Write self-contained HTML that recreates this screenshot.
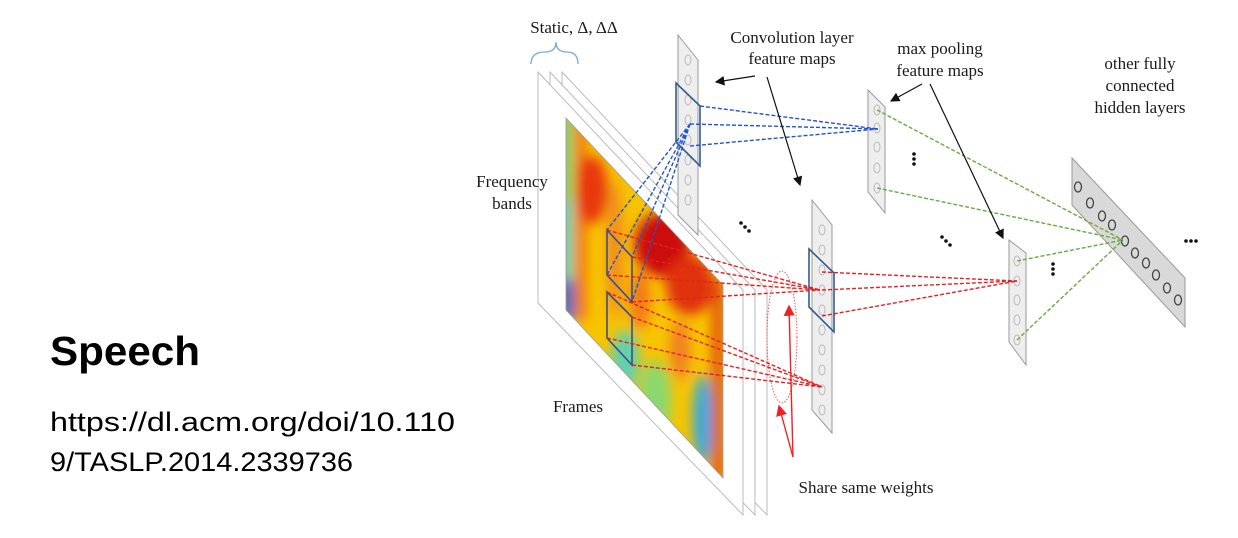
<!DOCTYPE html>
<html><head><meta charset="utf-8"><style>
html,body{margin:0;padding:0;background:#fff;}
svg{display:block;}
text{font-family:"Liberation Serif",serif;}
</style></head><body>
<svg width="1238" height="538" viewBox="0 0 1238 538" xmlns="http://www.w3.org/2000/svg">
<defs>
<clipPath id="spec"><polygon points="566,118 723,285 723,478 566,310"/></clipPath>
<filter id="bl"><feGaussianBlur stdDeviation="6"/></filter>
<marker id="ah" markerWidth="8" markerHeight="8" refX="7" refY="4" orient="auto"><path d="M0,0 L8,4 L0,8 z" fill="#111"/></marker>
<marker id="ahr" markerWidth="8" markerHeight="8" refX="7" refY="4" orient="auto"><path d="M0,0 L8,4 L0,8 z" fill="#e22"/></marker>
</defs>
<text x="50" y="365" font-weight="bold" font-size="41" textLength="150" lengthAdjust="spacingAndGlyphs" style="font-family:'Liberation Sans',sans-serif">Speech</text>
<text x="50" y="431" font-size="27" textLength="405" lengthAdjust="spacingAndGlyphs" style="font-family:'Liberation Sans',sans-serif">https://dl.acm.org/doi/10.110</text>
<text x="50" y="471" font-size="27" textLength="303" lengthAdjust="spacingAndGlyphs" style="font-family:'Liberation Sans',sans-serif">9/TASLP.2014.2339736</text>

<g fill="#fff" stroke="#bbb" stroke-width="1">
<polygon points="562,72 767,290 767,515 562,303"/>
<polygon points="550,72 755,290 755,515 550,303"/>
<polygon points="538,72 743,290 743,515 538,303"/>
</g>
<g clip-path="url(#spec)">
<rect x="560" y="110" width="170" height="380" fill="#f7c400"/>
<g filter="url(#bl)">
<rect x="560" y="110" width="12" height="380" fill="#6ccf8a"/>
<rect x="560" y="200" width="12" height="90" fill="#40d0e0"/>
<rect x="560" y="280" width="14" height="40" fill="#2c5fd8"/>
<rect x="576" y="120" width="10" height="200" fill="#f06a10"/>
<ellipse cx="592" cy="190" rx="16" ry="34" fill="#e83810"/>
<ellipse cx="615" cy="250" rx="8" ry="70" fill="#f08a20"/>
<ellipse cx="662" cy="245" rx="28" ry="32" fill="#cc0a0a"/>
<ellipse cx="690" cy="285" rx="24" ry="30" fill="#e03010"/>
<ellipse cx="640" cy="300" rx="10" ry="30" fill="#f07818"/>
<ellipse cx="625" cy="360" rx="14" ry="30" fill="#60d0b0"/>
<ellipse cx="655" cy="400" rx="16" ry="40" fill="#8ad870"/>
<ellipse cx="703" cy="420" rx="10" ry="45" fill="#30a8e0"/>
<ellipse cx="680" cy="350" rx="10" ry="30" fill="#f08020"/>
<rect x="712" y="280" width="12" height="200" fill="#e05010"/>
</g>
</g>
<polygon points="566,118 723,285 723,478 566,310" fill="none" stroke="#999" stroke-width="0.8"/>

<g fill="#eee" stroke="#999" stroke-width="1">
<polygon points="678,35 698,60 698,235 678,215"/>
<polygon points="812,200 832,225 832,433 812,410"/>
<polygon points="868,90 885,107 885,213 868,192"/>
<polygon points="1009,240 1026,253 1026,365 1009,342"/>
<polygon fill="#d9d9d9" points="1072,158 1185,278 1185,327 1072,205"/>
</g>
<g fill="none" stroke="#bbb" stroke-width="1">
<ellipse cx="688" cy="60" rx="3" ry="5"/><ellipse cx="688" cy="80" rx="3" ry="5"/><ellipse cx="688" cy="100" rx="3" ry="5"/><ellipse cx="688" cy="120" rx="3" ry="5"/><ellipse cx="688" cy="140" rx="3" ry="5"/><ellipse cx="688" cy="160" rx="3" ry="5"/><ellipse cx="688" cy="180" rx="3" ry="5"/><ellipse cx="688" cy="200" rx="3" ry="5"/>
<ellipse cx="822" cy="230" rx="3" ry="5"/><ellipse cx="822" cy="250" rx="3" ry="5"/><ellipse cx="822" cy="270" rx="3" ry="5"/><ellipse cx="822" cy="290" rx="3" ry="5"/><ellipse cx="822" cy="310" rx="3" ry="5"/><ellipse cx="822" cy="330" rx="3" ry="5"/><ellipse cx="822" cy="350" rx="3" ry="5"/><ellipse cx="822" cy="370" rx="3" ry="5"/><ellipse cx="822" cy="390" rx="3" ry="5"/><ellipse cx="822" cy="410" rx="3" ry="5"/>
<ellipse cx="877" cy="110" rx="3" ry="5"/><ellipse cx="877" cy="128" rx="3" ry="5"/><ellipse cx="877" cy="147" rx="3" ry="5"/><ellipse cx="877" cy="168" rx="3" ry="5"/><ellipse cx="877" cy="188" rx="3" ry="5"/>
<ellipse cx="1017" cy="261" rx="3" ry="5"/><ellipse cx="1017" cy="281" rx="3" ry="5"/><ellipse cx="1017" cy="300" rx="3" ry="5"/><ellipse cx="1017" cy="320" rx="3" ry="5"/><ellipse cx="1017" cy="340" rx="3" ry="5"/>
</g>
<g fill="none" stroke="#444" stroke-width="1.3">
<ellipse cx="1078" cy="187" rx="3.5" ry="5"/><ellipse cx="1090" cy="203" rx="3.5" ry="5"/><ellipse cx="1102" cy="216" rx="3.5" ry="5"/><ellipse cx="1112" cy="225" rx="3.5" ry="5"/><ellipse cx="1125" cy="241" rx="3.5" ry="5"/><ellipse cx="1135" cy="253" rx="3.5" ry="5"/><ellipse cx="1146" cy="263" rx="3.5" ry="5"/><ellipse cx="1156" cy="275" rx="3.5" ry="5"/><ellipse cx="1167" cy="288" rx="3.5" ry="5"/><ellipse cx="1178" cy="300" rx="3.5" ry="5"/>
</g>

<g fill="none" stroke="#3a4f8a" stroke-width="1.6">
<polygon points="607,230 632,257 632,302 607,275"/>
<polygon points="607,292 632,317 632,365 607,338"/>
<polygon points="676,83 700,106 700,166 676,142" stroke="#335d8d"/>
<polygon points="809,249 834,273 834,332 809,307" stroke="#335d8d"/>
</g>

<g stroke="#2255cc" stroke-width="1.4" stroke-dasharray="4,2" fill="none">
<line x1="690" y1="124" x2="607" y2="230"/><line x1="690" y1="124" x2="632" y2="257"/><line x1="690" y1="124" x2="607" y2="275"/><line x1="690" y1="124" x2="632" y2="302"/>
<line x1="700" y1="106" x2="878" y2="129"/><line x1="690" y1="124" x2="878" y2="129"/><line x1="690" y1="146" x2="878" y2="129"/>
</g>
<g stroke="#e52020" stroke-width="1.4" stroke-dasharray="4,2" fill="none">
<line x1="607" y1="230" x2="820" y2="290"/><line x1="632" y1="257" x2="820" y2="290"/><line x1="607" y1="275" x2="820" y2="290"/><line x1="632" y1="302" x2="820" y2="290"/>
<line x1="607" y1="292" x2="822" y2="387"/><line x1="632" y1="317" x2="822" y2="387"/><line x1="607" y1="338" x2="822" y2="387"/><line x1="632" y1="365" x2="822" y2="387"/>
<line x1="822" y1="272" x2="1017" y2="281"/><line x1="822" y1="290" x2="1017" y2="281"/><line x1="822" y1="316" x2="1017" y2="281"/>
</g>
<g stroke="#6aaa3a" stroke-width="1.4" stroke-dasharray="4,2" fill="none">
<line x1="877" y1="110" x2="1123" y2="240"/><line x1="877" y1="188" x2="1123" y2="240"/><line x1="1017" y1="261" x2="1123" y2="240"/><line x1="1017" y1="340" x2="1123" y2="240"/>
</g>

<ellipse cx="782" cy="337" rx="15" ry="66" fill="none" stroke="#e55" stroke-width="1" stroke-dasharray="1.5,1.5"/>
<g stroke="#e22" stroke-width="1.4" fill="none">
<line x1="793" y1="457" x2="789" y2="306" marker-end="url(#ahr)"/>
<line x1="793" y1="457" x2="779" y2="406" marker-end="url(#ahr)"/>
</g>
<g stroke="#111" stroke-width="1.2">
<line x1="755" y1="76" x2="716" y2="82" marker-end="url(#ah)"/>
<line x1="767" y1="77" x2="800" y2="185" marker-end="url(#ah)"/>
<line x1="922" y1="84" x2="891" y2="101" marker-end="url(#ah)"/>
<line x1="930" y1="84" x2="1003" y2="238" marker-end="url(#ah)"/>
</g>
<g fill="#111">
<circle cx="741" cy="223" r="1.8"/><circle cx="745" cy="227" r="1.8"/><circle cx="749" cy="231" r="1.8"/>
<circle cx="942" cy="237" r="1.8"/><circle cx="946" cy="241" r="1.8"/><circle cx="950" cy="245" r="1.8"/>
<circle cx="914" cy="154" r="1.8"/><circle cx="914" cy="159" r="1.8"/><circle cx="914" cy="164" r="1.8"/>
<circle cx="1053" cy="264" r="1.8"/><circle cx="1053" cy="269" r="1.8"/><circle cx="1053" cy="274" r="1.8"/>
<circle cx="1186" cy="241" r="1.8"/><circle cx="1191" cy="241" r="1.8"/><circle cx="1196" cy="241" r="1.8"/>
</g>
<path d="M531,64 Q531,52 545,52 Q556,52 556,42 Q556,52 567,52 Q578,52 578,64" fill="none" stroke="#7aa8d8" stroke-width="1.3"/>

<g font-size="17" fill="#1a1a1a" text-anchor="middle">
<text x="574" y="33">Static, Δ, ΔΔ</text>
<text x="792" y="43">Convolution layer</text>
<text x="792" y="64">feature maps</text>
<text x="940" y="54">max pooling</text>
<text x="940" y="76">feature maps</text>
<text x="1140" y="69">other fully</text>
<text x="1140" y="91">connected</text>
<text x="1140" y="113">hidden layers</text>
<text x="512" y="187">Frequency</text>
<text x="512" y="209">bands</text>
<text x="578" y="412">Frames</text>
<text x="866" y="493">Share same weights</text>
</g>
</svg>
</body></html>
